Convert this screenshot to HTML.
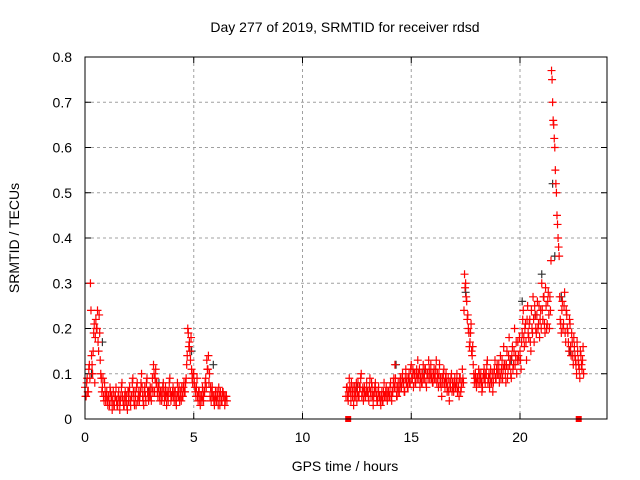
<!DOCTYPE html>
<html><head><meta charset="utf-8"><style>
body{margin:0;background:#fff}
svg{display:block;font-family:"Liberation Sans",sans-serif}
</style></head><body>
<svg id="chart" width="640" height="480">
<text x="345" y="32" font-size="14" text-anchor="middle">Day 277 of 2019, SRMTID for receiver rdsd</text>
<text x="345" y="471" font-size="14" text-anchor="middle">GPS time / hours</text>
<text transform="translate(19,238) rotate(-90)" font-size="14" text-anchor="middle">SRMTID / TECUs</text>
<g id="grid"></g><g id="ticks"></g><g id="marks"></g>
<rect x="85" y="57" width="522" height="362" fill="none" stroke="#000" stroke-width="1"/>
</svg>
<script>
const xTicks=[0,5,10,15,20];
const yTicks=[0,0.1,0.2,0.3,0.4,0.5,0.6,0.7,0.8];
const yTickLabels=["0","0.1","0.2","0.3","0.4","0.5","0.6","0.7","0.8"];
const seg1Start=0, seg2Start=12, step=0.05;
const seg1Values=[0.07,0.05,0.09,0.06,0.12,0.30,0.14,0.10,0.19,0.08,
0.22,0.20,0.17,0.23,0.13,0.09,0.07,0.05,0.08,0.04,
0.06,0.03,0.05,0.07,0.04,0.02,0.06,0.03,0.05,0.04,
0.03,0.06,0.02,0.05,0.08,0.04,0.03,0.06,0.05,0.02,
0.04,0.07,0.03,0.05,0.09,0.04,0.06,0.03,0.08,0.05,
0.04,0.06,0.10,0.05,0.03,0.07,0.04,0.09,0.05,0.06,
0.07,0.04,0.09,0.12,0.06,0.11,0.08,0.05,0.07,0.04,
0.06,0.05,0.08,0.04,0.07,0.03,0.05,0.06,0.09,0.04,
0.05,0.07,0.04,0.06,0.03,0.08,0.05,0.04,0.06,0.07,
0.05,0.08,0.06,0.09,0.14,0.19,0.17,0.13,0.11,0.08,
0.10,0.07,0.05,0.09,0.04,0.06,0.03,0.05,0.07,0.04,
0.06,0.09,0.13,0.11,0.08,0.05,0.04,0.07,0.05,0.03,
0.06,0.04,0.05,0.07,0.03,0.05,0.04,0.06,0.05,0.04,0.05];
const seg1ValuesB=[0.05,0.08,0.06,0.11,0.09,0.24,0.12,0.15,0.21,0.18,
0.20,0.24,0.15,0.19,0.10,0.06,0.09,0.04,0.06,0.05,
0.04,0.05,0.03,0.06,0.05,0.04,0.03,0.05,0.07,0.03,
0.05,0.04,0.04,0.07,0.05,0.03,0.05,0.04,0.03,0.06,
0.06,0.04,0.05,0.08,0.06,0.03,0.05,0.07,0.04,0.06,
0.05,0.08,0.07,0.04,0.06,0.05,0.08,0.06,0.04,0.05,
0.05,0.07,0.06,0.10,0.09,0.08,0.06,0.07,0.05,0.06,
0.04,0.07,0.06,0.05,0.05,0.06,0.04,0.08,0.06,0.05,
0.06,0.05,0.06,0.04,0.05,0.06,0.07,0.05,0.04,0.05,
0.07,0.06,0.08,0.12,0.20,0.16,0.15,0.18,0.09,0.10,
0.08,0.06,0.07,0.05,0.06,0.04,0.05,0.04,0.05,0.06,
0.08,0.07,0.11,0.14,0.10,0.07,0.06,0.05,0.04,0.05,
0.04,0.06,0.03,0.05,0.06,0.04,0.06,0.05,0.03,0.05,0.04];
const seg2Values=[0.05,0.07,0.04,0.09,0.06,0.08,0.05,0.03,0.07,0.06,0.04,0.08,0.05,0.07,0.10,0.06,0.04,0.07,0.05,0.08,
0.06,0.04,0.09,0.05,0.07,0.03,0.06,0.08,0.05,0.04,0.07,0.05,0.03,0.06,0.04,0.08,0.05,0.07,0.04,0.06,
0.05,0.08,0.04,0.06,0.09,0.12,0.07,0.05,0.08,0.06,0.09,0.07,0.10,0.08,0.06,0.11,0.09,0.07,0.10,0.08,
0.12,0.09,0.07,0.10,0.08,0.11,0.13,0.09,0.07,0.10,0.08,0.12,0.09,0.11,0.07,0.10,0.13,0.09,0.12,0.10,
0.08,0.11,0.09,0.13,0.10,0.07,0.12,0.09,0.05,0.08,0.11,0.07,0.10,0.06,0.09,0.04,0.07,0.10,0.08,0.06,
0.09,0.07,0.10,0.08,0.05,0.09,0.07,0.11,0.08,0.32,0.30,0.26,0.23,0.19,0.17,0.21,0.14,0.12,0.08,0.10,
0.07,0.09,0.11,0.08,0.10,0.06,0.09,0.11,0.08,0.10,0.13,0.09,0.07,0.11,0.08,0.06,0.10,0.13,0.09,0.12,
0.10,0.08,0.14,0.11,0.09,0.16,0.12,0.08,0.15,0.11,0.18,0.13,0.09,0.16,0.12,0.20,0.14,0.10,0.17,0.13,
0.15,0.11,0.19,0.24,0.16,0.21,0.13,0.25,0.18,0.22,0.15,0.20,0.27,0.17,0.23,0.19,0.26,0.21,0.18,0.24,
0.30,0.22,0.27,0.19,0.25,0.21,0.28,0.20,0.24,0.77,0.70,0.65,0.60,0.52,0.45,0.40,0.36,0.22,0.19,0.26,
0.21,0.28,0.17,0.23,0.19,0.15,0.21,0.14,0.17,0.12,0.16,0.13,0.10,0.15,0.12,0.09,0.14,0.11,0.16];
const seg2ValuesB=[0.07,0.05,0.06,0.07,0.04,0.06,0.07,0.05,0.05,0.08,0.06,0.05,0.07,0.09,0.05,0.07,0.06,0.05,0.06,0.06,
0.05,0.07,0.06,0.08,0.05,0.05,0.07,0.06,0.04,0.06,0.05,0.04,0.05,0.04,0.06,0.05,0.06,0.05,0.06,0.05,
0.07,0.05,0.06,0.08,0.07,0.09,0.05,0.07,0.06,0.08,0.07,0.09,0.08,0.06,0.09,0.08,0.07,0.09,0.08,0.11,
0.09,0.11,0.10,0.08,0.10,0.09,0.10,0.11,0.09,0.08,0.10,0.09,0.11,0.08,0.10,0.09,0.11,0.10,0.09,0.08,
0.10,0.09,0.11,0.08,0.09,0.10,0.08,0.07,0.09,0.10,0.08,0.09,0.08,0.07,0.06,0.08,0.09,0.06,0.07,0.08,
0.07,0.08,0.06,0.07,0.09,0.06,0.08,0.09,0.24,0.29,0.27,0.22,0.20,0.16,0.19,0.15,0.16,0.10,0.09,0.08,
0.09,0.08,0.10,0.09,0.08,0.07,0.10,0.09,0.10,0.12,0.08,0.10,0.09,0.08,0.10,0.08,0.11,0.09,0.11,0.10,
0.12,0.10,0.09,0.13,0.11,0.12,0.10,0.12,0.09,0.14,0.12,0.10,0.14,0.11,0.15,0.12,0.17,0.13,0.14,0.18,
0.13,0.17,0.22,0.18,0.20,0.17,0.22,0.19,0.21,0.17,0.24,0.19,0.22,0.25,0.20,0.23,0.20,0.25,0.22,0.20,
0.24,0.27,0.21,0.29,0.20,0.26,0.23,0.27,0.35,0.75,0.66,0.62,0.55,0.50,0.43,0.38,0.27,0.21,0.24,0.20,
0.25,0.19,0.24,0.20,0.17,0.22,0.16,0.19,0.14,0.18,0.14,0.12,0.17,0.13,0.11,0.15,0.12,0.13,0.10];
const blackTimes=[0.3,0.8,2.9,3.4,4.9,5.9,12.5,14.3,15.6,17.5,19.6,20.1,20.7,21.0,21.5,21.6,21.9,22.3];
const blackValues=[0.10,0.17,0.06,0.08,0.15,0.12,0.07,0.12,0.10,0.28,0.13,0.26,0.23,0.32,0.52,0.36,0.27,0.15];
const squareTimes=[12.1,22.7];
const squareValues=[0,0];

const X=t=>85+t*(522/24);
const Y=v=>419-v*(362/0.8);
const NS="http://www.w3.org/2000/svg";
function mk(tag,attrs,parent){const e=document.createElementNS(NS,tag);for(const k in attrs)e.setAttribute(k,attrs[k]);parent.appendChild(e);return e;}
const grid=document.getElementById('grid'),ticks=document.getElementById('ticks'),marks=document.getElementById('marks');
xTicks.forEach(t=>{
  if(t>0){const g=mk('line',{x1:X(t),x2:X(t),y1:57,y2:419,stroke:'#a0a0a0','stroke-dasharray':'3,3'},grid);
  
  }
  mk('line',{x1:X(t),x2:X(t),y1:419,y2:413,stroke:'#000'},ticks);
  mk('line',{x1:X(t),x2:X(t),y1:57,y2:63,stroke:'#000'},ticks);
  const l=mk('text',{x:X(t),y:442,'font-size':14,'text-anchor':'middle'},ticks);l.textContent=t;
  
  
});
yTicks.forEach((v,i)=>{
  if(v>0&&v<0.8){const g=mk('line',{x1:85,x2:607,y1:Y(v),y2:Y(v),stroke:'#a0a0a0','stroke-dasharray':'3,3'},grid);
  
  }
  mk('line',{x1:85,x2:91,y1:Y(v),y2:Y(v),stroke:'#000'},ticks);
  mk('line',{x1:607,x2:601,y1:Y(v),y2:Y(v),stroke:'#000'},ticks);
  const l=mk('text',{x:72,y:Y(v)+5,'font-size':14,'text-anchor':'end'},ticks);l.textContent=yTickLabels[i];
  
  
});
function plus(t,v,color,name){
  const x=X(t),y=Y(v);
  const p=mk('path',{d:`M${x-4},${y}H${x+4}M${x},${y-4}V${y+4}`,stroke:color,'stroke-width':1.2,fill:'none'},marks);
  
  
}
blackTimes.forEach((t,i)=>plus(t,blackValues[i],'#333','black-point'));
seg1Values.forEach((v,i)=>plus(seg1Start+i*step,v,'#f00','red-point'));
seg1ValuesB.forEach((v,i)=>plus(seg1Start+i*step+step/2,v,'#f00','red-point'));
seg2Values.forEach((v,i)=>plus(seg2Start+i*step,v,'#f00','red-point'));
seg2ValuesB.forEach((v,i)=>plus(seg2Start+i*step+step/2,v,'#f00','red-point'));
squareTimes.forEach((t,i)=>{
  const r=mk('rect',{x:X(t)-3,y:Y(squareValues[i])-3,width:6,height:6,fill:'#f00'},marks);
  
  
});
</script>
</body></html>
